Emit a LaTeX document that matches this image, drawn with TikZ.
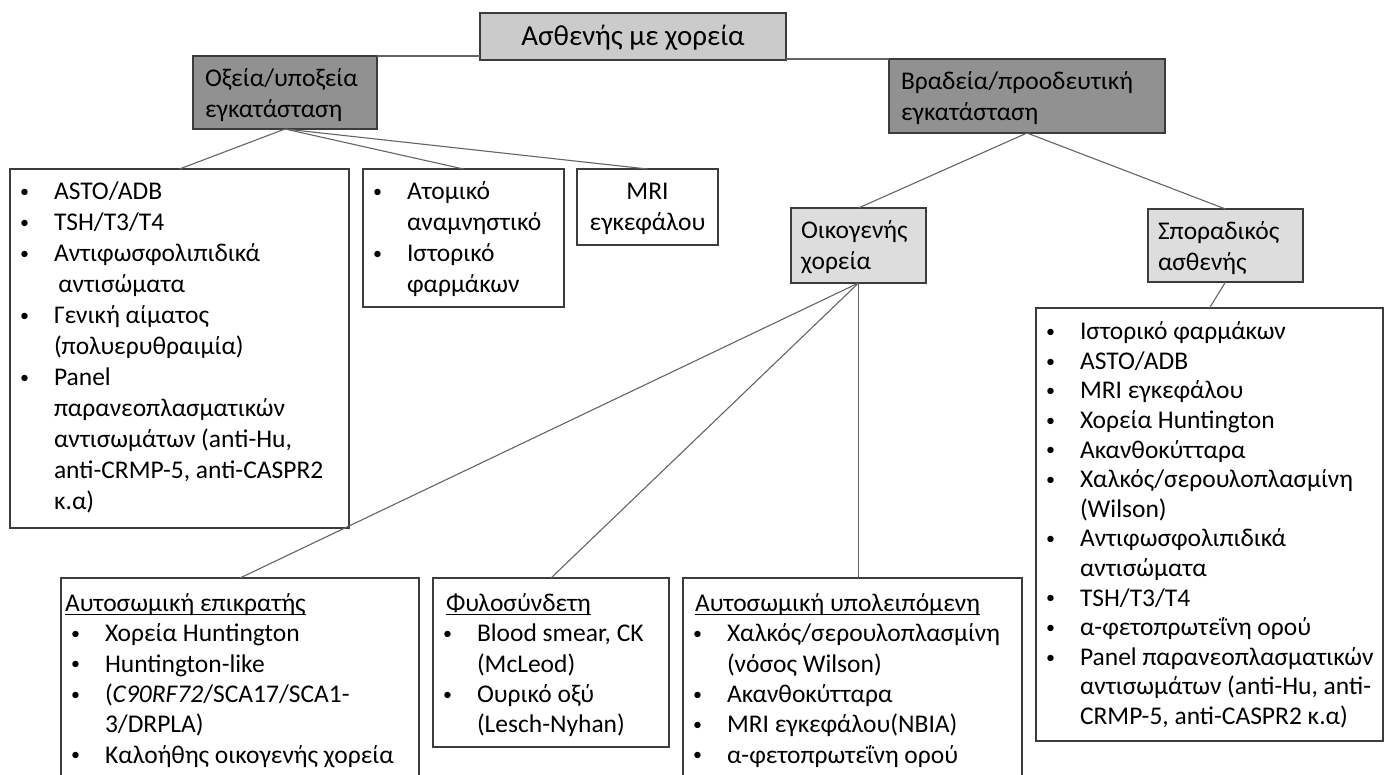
\documentclass[tikz,border=0pt]{standalone}
\usepackage{fontspec}
\setmainfont{Carlito}
\definecolor{titlefill}{RGB}{203,203,203}
\definecolor{darkfill}{RGB}{145,145,145}
\definecolor{lightfill}{RGB}{221,221,221}
\definecolor{rimgray}{RGB}{60,60,60}
\definecolor{linkgray}{RGB}{100,100,100}
\newcommand{\bl}{\makebox[34pt][l]{\raisebox{2.3pt}{\fontsize{18}{18}\selectfont\textbullet}}}
\newcommand{\ind}{\hspace*{34pt}}
\newcommand{\uln}[1]{\setbox0\hbox{#1}\rlap{\rule[-4pt]{\wd0}{1.3pt}}\box0}
\newcommand{\boxtext}[4][9pt]{\parbox[c][#3pt][t]{#2pt}{\leftskip=10pt\rightskip=-40pt plus 1fil\hyphenpenalty=10000\vspace*{#1}\strut#4}}

\begin{document}
\begin{tikzpicture}[x=1pt, y=-1pt,
  every node/.style={font=\fontsize{25.5}{31}\selectfont, inner sep=0pt, outer sep=0pt, anchor=north west},
  box/.style={draw=rimgray, line width=1.5pt, fill=white},
  topbox/.style={box, fill=titlefill, font=\fontsize{29}{35}\selectfont},
  phase/.style={box, fill=darkfill},
  group/.style={box, fill=lightfill},
  tight/.style={font=\fontsize{25.5}{29.6}\selectfont},
  lower/.style={font=\fontsize{25.5}{30.4}\selectfont},
  link/.style={draw=linkgray, line width=1.1pt}]
  \useasboundingbox (0,0) rectangle (1386,774);
  \clip (0,0) rectangle (1386,774);

  \node[topbox] (title) at (480,13) {\boxtext[8pt]{306}{47}{\centering Ασθενής με χορεία}};
  \node[phase] (acute) at (193,56) {\boxtext{184}{73}{\hspace*{2pt}Οξεία/υποξεία\\\hspace*{2pt}εγκατάσταση}};
  \node[phase] (slow) at (889,59) {\boxtext{276}{74}{\hspace*{2pt}Βραδεία/προοδευτική\\\hspace*{2pt}εγκατάσταση}};

  \node[box] (labs) at (10,169) {\boxtext{339}{359}{%
    \bl ASTO/ADB\\
    \bl TSH/T3/T4\\
    \bl Αντιφωσφολιπιδικά\\
    \ind\,αντισώματα\\
    \bl Γενική αίματος\\
    \ind(πολυερυθραιμία)\\
    \bl Panel\\
    \ind παρανεοπλασματικών\\
    \ind αντισωμάτων (anti-Hu,\\
    \ind anti-CRMP-5, anti-CASPR2\\
    \ind κ.α)}};
  \node[box] (hist) at (363,169) {\boxtext{201}{138}{%
    \bl Ατομικό\\
    \ind αναμνηστικό\\
    \bl Ιστορικό\\
    \ind φαρμάκων}};
  \node[box] (mri) at (577,169) {\boxtext{141}{76}{\centering MRI\\εγκεφάλου}};

  \node[group] (fam) at (791,208) {\boxtext{135}{75}{Οικογενής\\χορεία}};
  \node[group] (spor) at (1148,209) {\boxtext{155}{73}{Σποραδικός\\ασθενής}};

  \node[box, tight] (sporlist) at (1036,308) {\boxtext[11pt]{347}{433}{%
    \bl Ιστορικό φαρμάκων\\
    \bl ASTO/ADB\\
    \bl MRI εγκεφάλου\\
    \bl Χορεία Huntington\\
    \bl Ακανθοκύτταρα\\
    \bl Χαλκός/σερουλοπλασμίνη\\
    \ind (Wilson)\\
    \bl Αντιφωσφολιπιδικά\\
    \ind αντισώματα\\
    \bl TSH/T3/T4\\
    \bl α-φετοπρωτεΐνη ορού\\
    \bl Panel παρανεοπλασματικών\\
    \ind αντισωμάτων (anti-Hu, anti-\\
    \ind CRMP-5, anti-CASPR2 κ.α)}};

  \node[box, lower] (adom) at (61,578) {\boxtext[12pt]{358}{230}{%
    \hspace*{-6pt}\uln{Αυτοσωμική επικρατής}\\
    \bl Χορεία Huntington\\
    \bl Huntington-like\\
    \bl (\textit{C90RF72}/SCA17/SCA1-\\
    \ind 3/DRPLA)\\
    \bl Καλοήθης οικογενής χορεία}};
  \node[box, lower] (xlink) at (433,578) {\boxtext[12pt]{236}{169}{%
    \hspace*{3pt}\uln{Φυλοσύνδετη}\\
    \bl Blood smear, CK\\
    \ind (McLeod)\\
    \bl Ουρικό οξύ\\
    \ind (Lesch-Nyhan)}};
  \node[box, lower] (arec) at (683,578) {\boxtext[12pt]{339}{230}{%
    \hspace*{2pt}\uln{Αυτοσωμική υπολειπόμενη}\\
    \bl Χαλκός/σερουλοπλασμίνη\\
    \ind (νόσος Wilson)\\
    \bl Ακανθοκύτταρα\\
    \bl MRI εγκεφάλου(NBIA)\\
    \bl α-φετοπρωτεΐνη ορού}};

  \draw[link] (acute.north east) -- (acute.north east -| title.west);
  \draw[link] (slow.north west) -- (slow.north west -| title.east);
  \draw[link] (acute.south) -- (labs.north);
  \draw[link] (acute.south) -- (hist.north);
  \draw[link] (acute.south) -- (mri.north);
  \draw[link] (slow.south) -- (fam.north);
  \draw[link] (slow.south) -- (spor.north);
  \draw[link] (spor.south) -- (sporlist.north);
  \draw[link] (fam.south) -- (adom.north);
  \draw[link] (fam.south) -- (xlink.north);
  \draw[link] (fam.south) -- (fam.south |- arec.north);
\end{tikzpicture}
\end{document}
